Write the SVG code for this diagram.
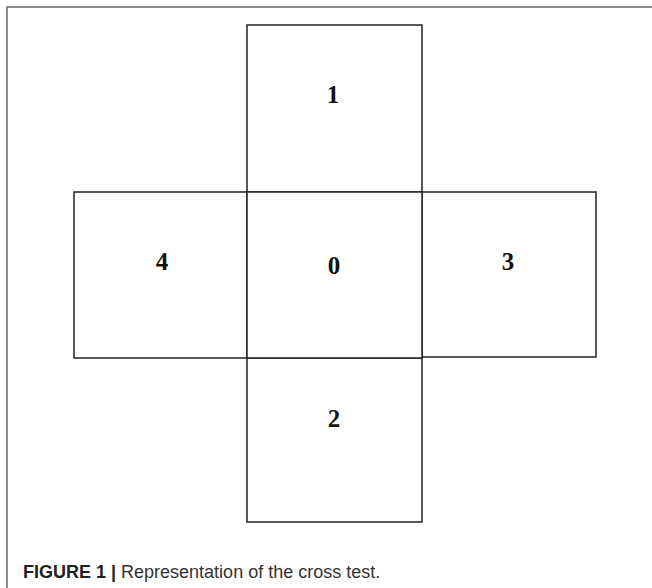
<svg xmlns="http://www.w3.org/2000/svg" width="652" height="588" viewBox="0 0 652 588">
<style>
.box{fill:#fff;stroke:#222;stroke-width:1.5}
.lbl{font-family:"Liberation Serif",serif;font-weight:bold;font-size:25px;fill:#111;text-anchor:middle}
.cap{font-family:"Liberation Sans",Arial,sans-serif;font-size:18px;fill:#333}
</style>
<rect x="0" y="0" width="652" height="588" fill="#fff"/>
<rect x="7" y="7" width="700" height="700" fill="none" stroke="#666" stroke-width="1.5"/>
<g id="node1"><rect class="box" x="247" y="25" width="175" height="167"/><text class="lbl" x="333" y="103">1</text></g>
<g id="node4"><rect class="box" x="74" y="192" width="173" height="166"/><text class="lbl" x="162" y="270">4</text></g>
<g id="node3"><rect class="box" x="422" y="192" width="174" height="165"/><text class="lbl" x="508" y="270">3</text></g>
<g id="node2"><rect class="box" x="247" y="358" width="175" height="164"/><text class="lbl" x="334" y="427">2</text></g>
<g id="node0"><rect class="box" x="247" y="192" width="175" height="166"/><text class="lbl" x="334" y="274">0</text></g>
<g id="connectors"></g>
<text class="cap" x="23" y="578"><tspan font-weight="bold" fill="#222">FIGURE 1 |</tspan> Representation of the cross test.</text>
</svg>
